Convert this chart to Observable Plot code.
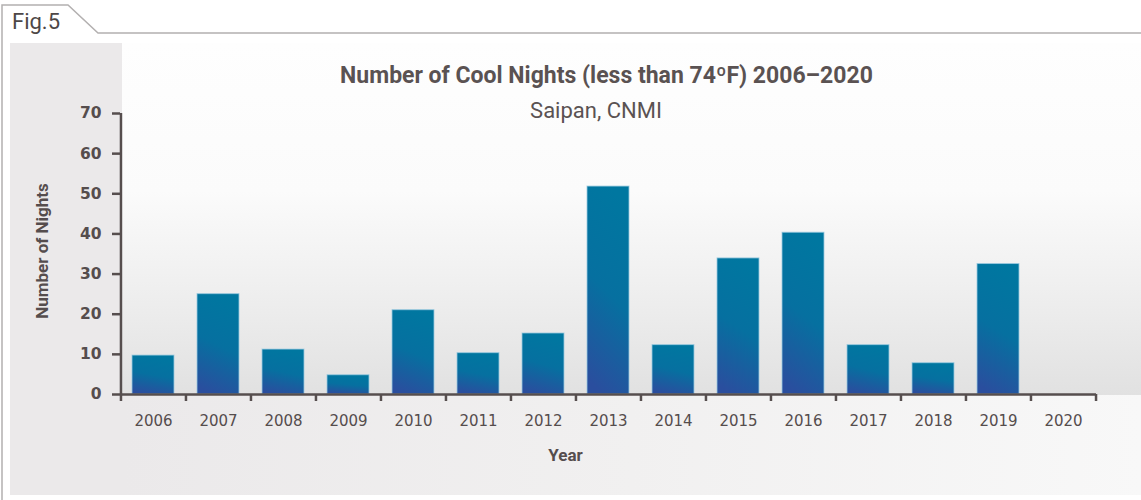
<!DOCTYPE html>
<html>
<head>
<meta charset="utf-8">
<script src="https://cdn.jsdelivr.net/npm/d3@7"></script>
<script src="https://cdn.jsdelivr.net/npm/@observablehq/plot@0.6"></script>
<style>
  html, body { margin: 0; padding: 0; background: #fff; }
  #page { position: relative; width: 1141px; height: 500px; overflow: hidden; background: #fff; }
  .abs { position: absolute; }
  #title { left: 0; width: 1213px; top: 62px; text-align: center; font: bold 23px Roboto, sans-serif; color: #5a5252; white-space: nowrap; }
  #subtitle { left: 0; width: 1192px; top: 98px; text-align: center; font: 22px Roboto, sans-serif; color: #5a5252; white-space: nowrap; }
  #fig { left: 12px; top: 9px; font: 22px Roboto, sans-serif; color: #4d4747; }
  #chart { left: 0; top: 0; }
</style>
</head>
<body>
<div id="page">
  <div class="abs" style="left:10px;top:43px;width:1131px;height:452px;background:#ebe9ea"></div>
  <div class="abs" style="left:122px;top:43px;width:1019px;height:352px;background:linear-gradient(to bottom,#fefefe 0%,#fbfbfb 42%,#eeeeee 72%,#e1e1e1 100%)"></div>
  <div class="abs" style="left:122px;top:395px;width:1019px;height:100px;background:linear-gradient(to right,#ebe9ea 0%,#f1f0f0 50%,#f8f8f8 100%)"></div>
  <svg class="abs" style="left:0;top:0" width="1141" height="500">
    <path d="M2,500 V5 H68 L98,33 H1141" fill="none" stroke="#b3b0b0" stroke-width="1.5"/>
  </svg>
  <div id="fig" class="abs">Fig.5</div>
  <div id="title" class="abs">Number of Cool Nights (less than 74ºF) 2006–2020</div>
  <div id="subtitle" class="abs">Saipan, CNMI</div>
  <div id="chart" class="abs"></div>
</div>
<script>
const years = ["2006","2007","2008","2009","2010","2011","2012","2013","2014","2015","2016","2017","2018","2019","2020"];
const nights = [9.7, 25.0, 11.2, 4.8, 21.0, 10.3, 15.2, 51.8, 12.3, 33.9, 40.3, 12.3, 7.8, 32.5, 0];
const yTicks = [0, 10, 20, 30, 40, 50, 60, 70];
const yLabel = "Number of Nights";
const xLabel = "Year";

const data = years.map((year, i) => ({year, nights: nights[i]}));

const W = 1141, H = 500, ML = 120, MR = 45, MT = 113, MB = 106;
const step = (W - ML - MR) / years.length;
const axisColor = "#564e4e";
const textColor = "#554d4d";

function gradientDefs() {
  const defs = d3.create("svg:defs");
  const g = defs.append("linearGradient").attr("id", "barGrad")
    .attr("x1", 0.55).attr("y1", 0).attr("x2", 0.35).attr("y2", 1);
  g.append("stop").attr("offset", "0%").attr("stop-color", "#0077a0");
  g.append("stop").attr("offset", "50%").attr("stop-color", "#0670a0");
  g.append("stop").attr("offset", "100%").attr("stop-color", "#2a4e9e");
  return defs.node();
}

const chart = Plot.plot({
  width: W, height: H,
  marginLeft: ML, marginRight: MR, marginTop: MT, marginBottom: MB,
  style: {background: "transparent", color: axisColor, overflow: "visible"},
  x: {domain: years, paddingInner: 0.36, paddingOuter: 0.18, axis: null},
  y: {domain: [0, 70], axis: null},
  marks: [
    gradientDefs,
    Plot.barY(data, {x: "year", y: "nights", fill: "url(#barGrad)", stroke: "#9ccbe0", strokeWidth: 1, strokeOpacity: 0.8}),
    Plot.ruleY([0], {stroke: axisColor, strokeWidth: 2.5}),
    Plot.ruleX([years[0]], {dx: -step / 2, y1: 0, y2: 70, stroke: axisColor, strokeWidth: 2.5}),
    Plot.axisX({label: null, tickSize: 7, strokeWidth: 2.5, stroke: axisColor, fill: "none", dx: -step / 2}),
    Plot.axisX([years[years.length - 1]], {label: null, tickSize: 7, strokeWidth: 2.5, stroke: axisColor, fill: "none", dx: step / 2}),
    Plot.axisX({label: null, tickSize: 0, tickPadding: 21, fontSize: 15, fontFamily: "DejaVu Sans", fill: textColor, stroke: "none"}),
    Plot.axisY({label: null, ticks: yTicks, tickSize: 8, tickPadding: 11, strokeWidth: 2.5, stroke: axisColor, fill: textColor, fontSize: 15.5, fontWeight: "bold", fontFamily: "DejaVu Sans"}),
    Plot.text([yLabel], {frameAnchor: "left", textAnchor: "middle", rotate: -90, dx: -78, dy: -3, fontSize: 17, fontWeight: "bold", fontFamily: "Roboto", fill: textColor}),
    Plot.text([xLabel], {frameAnchor: "bottom", dx: -43, dy: 66, fontSize: 17, fontWeight: "bold", fontFamily: "Roboto", fill: textColor})
  ]
});
document.getElementById("chart").appendChild(chart);
</script>
</body>
</html>
